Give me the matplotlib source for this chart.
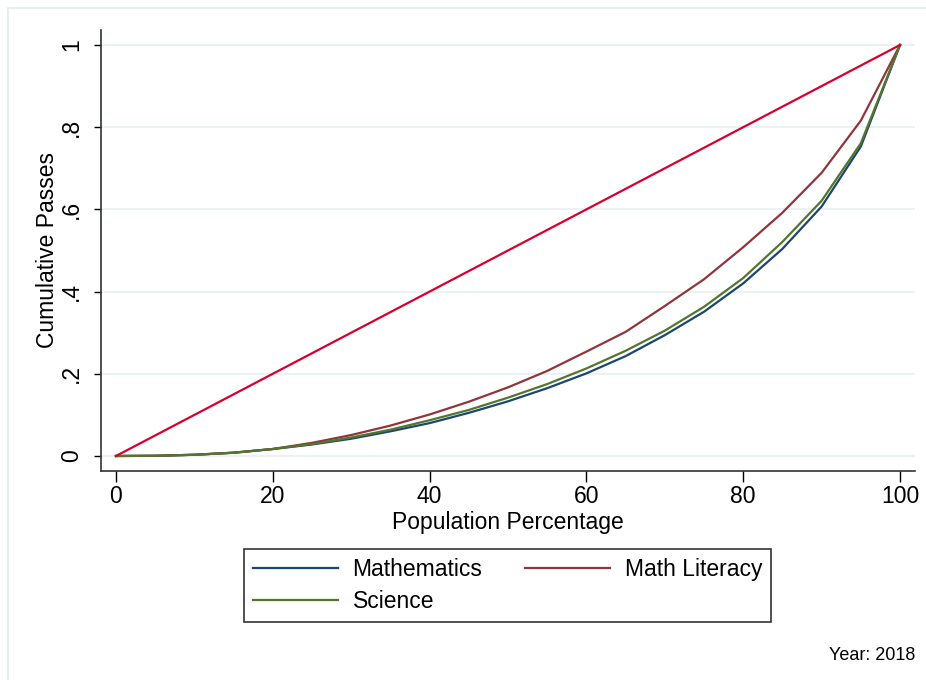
import numpy as np
import matplotlib.pyplot as plt
from matplotlib.patches import Rectangle

plt.rcParams['font.family'] = ['Liberation Sans', 'DejaVu Sans']

# population share (%) and cumulative passes
pop = [0, 5, 10, 15, 20, 25, 30, 35, 40, 45, 50, 55, 60, 65, 70, 75, 80, 85, 90, 95, 100]
maths = [0, 0.0005, 0.003, 0.008, 0.017, 0.028, 0.042, 0.060, 0.080, 0.105, 0.133, 0.165,
         0.201, 0.243, 0.294, 0.351, 0.420, 0.504, 0.607, 0.753, 1.0]
math_lit = [0, 0.0005, 0.003, 0.008, 0.017, 0.032, 0.051, 0.074, 0.101, 0.132, 0.167, 0.207,
            0.254, 0.302, 0.365, 0.430, 0.508, 0.592, 0.689, 0.816, 1.0]
science = [0, 0.0005, 0.003, 0.008, 0.017, 0.029, 0.045, 0.064, 0.087, 0.112, 0.142, 0.175,
           0.213, 0.256, 0.305, 0.363, 0.433, 0.521, 0.621, 0.761, 1.0]
equality = [0, 1]
equality_x = [0, 100]

yticks = [0, 0.2, 0.4, 0.6, 0.8, 1]
ylabels = ['0', '.2', '.4', '.6', '.8', '1']
xticks = [0, 20, 40, 60, 80, 100]

W, H = 926, 680
fs = 16.5
fig = plt.figure(figsize=(W / 100, H / 100), dpi=100)
ax = fig.add_axes([101 / W, 1 - 471 / H, (915 - 101) / W, (471 - 30) / H])

fig.patches.append(Rectangle((8 / W, -0.1), 1.1, 1.1 - 8 / H, transform=fig.transFigure,
                             fill=False, edgecolor='#e4ecee', lw=1.2))

for y in yticks:
    ax.axhline(y, color='#eaf2f3', lw=1.5, zorder=0)

l1, = ax.plot(pop, maths, color='#1a476f', lw=1.6, label='Mathematics')
l2, = ax.plot(pop, math_lit, color='#90353b', lw=1.6, label='Math Literacy')
l3, = ax.plot(pop, science, color='#55752f', lw=1.6, label='Science')
ax.plot(equality_x, equality, color='#d7002f', lw=1.6)

ax.set_xlim(-1.91, 101.91)
ax.set_ylim(-0.0365, 1.0365)
ax.set_xticks(xticks)
ax.set_yticks(yticks)
ax.set_yticklabels(ylabels, rotation=90, va='center')
ax.tick_params(axis='x', length=8, width=1, labelsize=fs, pad=2)
ax.tick_params(axis='y', length=5, width=1, labelsize=fs, pad=8)
for s in ['top', 'right']:
    ax.spines[s].set_visible(False)
for s in ['left', 'bottom']:
    ax.spines[s].set_linewidth(1.2)
    ax.spines[s].set_color('#333333')

ax.set_xlabel('Population Percentage', fontsize=fs, labelpad=2)
ax.set_ylabel('Cumulative Passes', fontsize=fs, labelpad=1)

# column-first fill: row 1 Mathematics / Math Literacy, row 2 Science
leg = fig.legend([l1, l3, l2], ['Mathematics', 'Science', 'Math Literacy'],
                 ncol=2, loc='center', bbox_to_anchor=(507.5 / W, 1 - 585.5 / H),
                 fontsize=fs, frameon=True, fancybox=False, edgecolor='black',
                 handlelength=3.7, columnspacing=1.85, handletextpad=0.65,
                 borderpad=0.4, labelspacing=0.42, borderaxespad=0)
leg.get_frame().set_linewidth(1.2)

fig.text(915 / W, 1 - 656 / H, 'Year: 2018', ha='right', va='center', fontsize=13)

fig.savefig('out.png', dpi=100)
